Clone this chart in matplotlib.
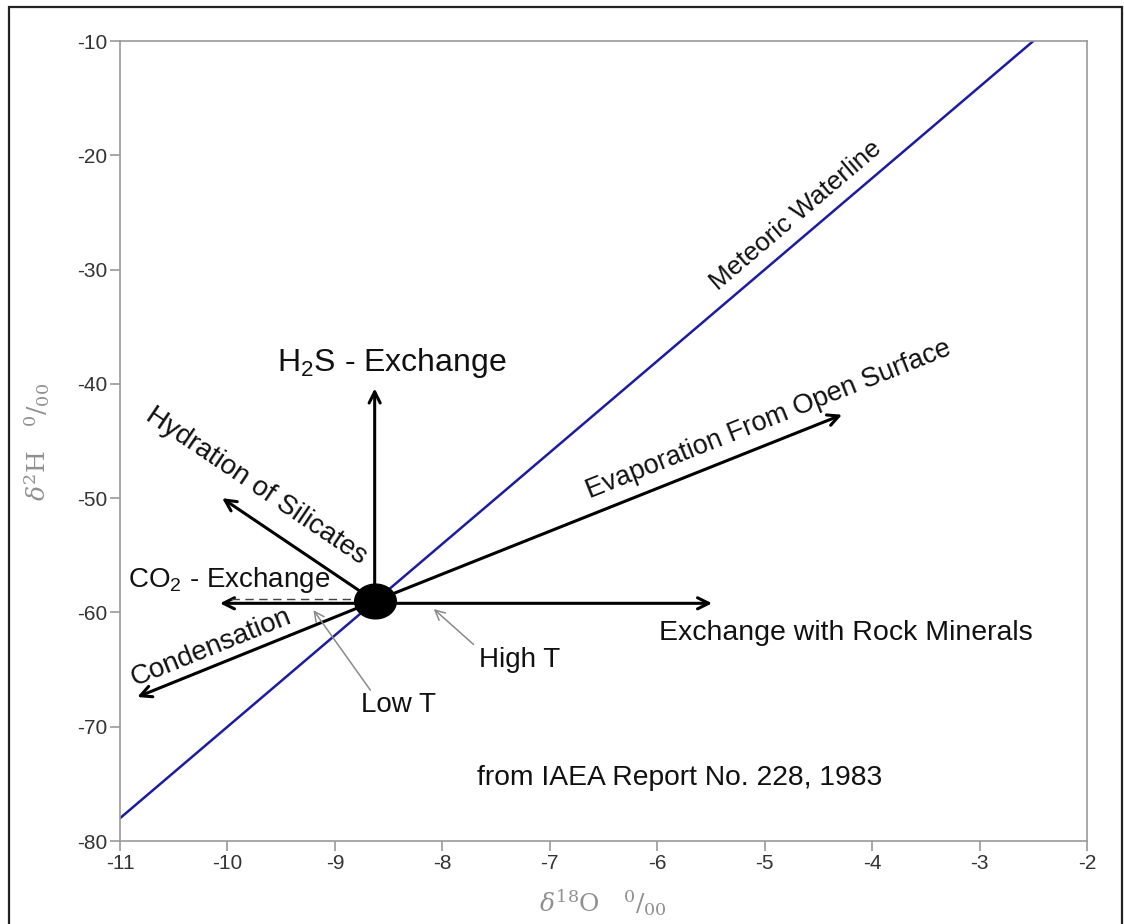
import matplotlib
matplotlib.use("Agg")
import matplotlib.pyplot as plt
from matplotlib.patches import Rectangle
import numpy as np

plt.rcParams['font.family'] = ['Liberation Sans', 'DejaVu Sans']
plt.rcParams['mathtext.fontset'] = 'custom'
plt.rcParams['mathtext.rm'] = 'Liberation Sans'
plt.rcParams['axes.unicode_minus'] = False

# Axis ranges and ticks
x_ticks = [-11, -10, -9, -8, -7, -6, -5, -4, -3, -2]
y_ticks = [-80, -70, -60, -50, -40, -30, -20, -10]

# Meteoric water line: d2H = 8 * d18O + 10
mwl_slope = 8
mwl_intercept = 10
mwl_x = [-11.0, -2.5]

# Starting composition
origin = (-8.63, -59.0)

# Process arrows: label -> (start, end)
arrow_starts = {
    "h2s": (-8.63, -59.0),
    "hydration": (-8.63, -59.0),
    "co2": (-8.63, -59.2),
    "condensation": (-8.63, -59.0),
    "evaporation": (-8.63, -59.0),
    "rock": (-8.63, -59.2),
}
arrow_ends = {
    "h2s": (-8.63, -40.4),
    "hydration": (-10.05, -50.0),
    "co2": (-10.07, -59.2),
    "condensation": (-10.84, -67.4),
    "evaporation": (-4.28, -42.7),
    "rock": (-5.49, -59.2),
}

# Low-temperature CO2 exchange (dashed)
co2_low_x = [-9.97, -8.75]
co2_low_y = [-58.85, -58.85]

fig = plt.figure(figsize=(11.24, 9.24), dpi=100)
ax = fig.add_axes([0.1068, 0.0898, 0.8603, 0.8658])

# frame around the figure
fig.patches.append(Rectangle((0.008, -0.01), 0.99, 1.002, transform=fig.transFigure,
                             fill=False, edgecolor='#222222', linewidth=1.6))

ax.set_xlim(-11, -2)
ax.set_ylim(-80, -10)
ax.set_xticks(x_ticks)
ax.set_yticks(y_ticks)
for s in ax.spines.values():
    s.set_color('#9a9a9a')
    s.set_linewidth(1.2)
ax.tick_params(direction='out', length=7, width=1.2, color='#9a9a9a',
               labelsize=15, labelcolor='#333333', pad=2)

# meteoric water line
mx = np.array(mwl_x)
ax.plot(mx, mwl_slope * mx + mwl_intercept, color='#1c1ca0', lw=1.8, zorder=2)

# process arrows
for key in arrow_ends:
    ax.annotate("", xy=arrow_ends[key], xytext=arrow_starts[key],
                arrowprops=dict(arrowstyle='->,head_length=0.8,head_width=0.4',
                                color='black', lw=2.2, shrinkA=0, shrinkB=0),
                zorder=3)

ax.plot(co2_low_x, co2_low_y, color='#444444', lw=1.0, ls=(0, (6, 4)), zorder=3)

# composition point (slightly wide ellipse)
t = np.linspace(0, 2 * np.pi, 60)
ell = np.column_stack([1.2 * np.cos(t), np.sin(t)])
ax.plot([origin[0]], [origin[1]], marker=ell, color='black', markersize=30,
        linestyle='none', zorder=5)

# labels
txt = dict(color='#111111', ha='center', va='center')
fs = 20
ax.text(-4.71, -25.3, "Meteoric Waterline", rotation=40.4, fontsize=18.8, **txt)
ax.text(-8.47, -38.2, r"H$_2$S - Exchange", fontsize=23, **txt)
ax.text(-9.73, -48.9, "Hydration of Silicates", rotation=-34, fontsize=fs, **txt)
ax.text(-9.98, -57.2, r"CO$_2$ - Exchange", fontsize=fs, **txt)
ax.text(-10.15, -63.1, "Condensation", rotation=22, fontsize=fs, **txt)
ax.text(-4.96, -43.1, "Evaporation From Open Surface", rotation=21.7, fontsize=19.5, **txt)
ax.text(-4.24, -61.8, "Exchange with Rock Minerals", fontsize=20.5, **txt)
ax.text(-7.28, -64.2, "High T", fontsize=fs, **txt)
ax.text(-8.41, -68.1, "Low T", fontsize=fs, **txt)
ax.text(-5.79, -74.5, "from IAEA Report No. 228, 1983", fontsize=20.3, **txt)

# temperature pointers
thin = dict(arrowstyle='->,head_length=0.7,head_width=0.35', color='#8a8a8a',
            lw=1.1, shrinkA=0, shrinkB=0)
ax.annotate("", xy=(-8.08, -59.7), xytext=(-7.71, -62.8), arrowprops=thin)
ax.annotate("", xy=(-9.20, -59.8), xytext=(-8.67, -66.8), arrowprops=thin)

# axis titles
fig.text(0.536, 0.023, r"$\delta^{18}\mathrm{O}\quad ^{0}/_{00}$", fontsize=18,
         color='#909090', ha='center', va='center', math_fontfamily='dejavuserif')
fig.text(0.033, 0.522, r"$\delta^{2}\mathrm{H}\quad ^{0}/_{00}$", fontsize=18,
         color='#909090', ha='center', va='center', rotation=90,
         math_fontfamily='dejavuserif')

fig.savefig("out.png", dpi=100)
